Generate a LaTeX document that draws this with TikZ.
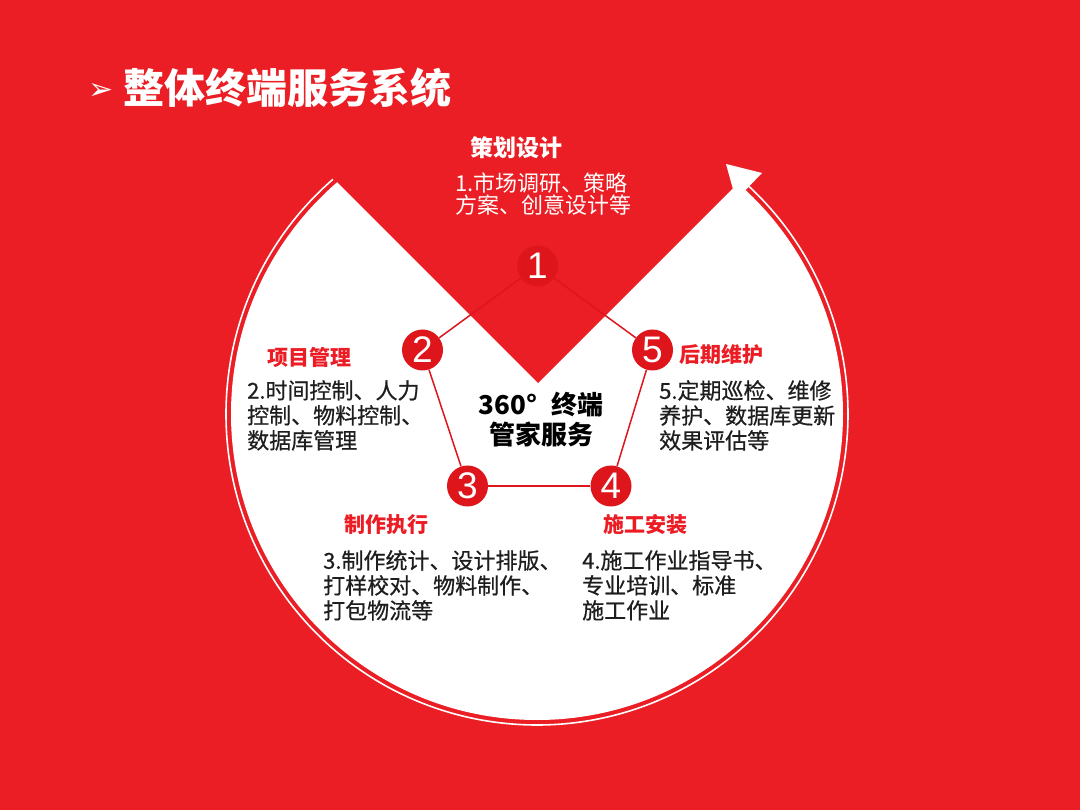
\documentclass[tikz,border=0pt]{standalone}
\usepackage{fontspec}
\setmainfont{Noto Sans CJK SC}
\newfontfamily\bodyfont{Noto Sans CJK SC}[FakeBold=0.6]
\newfontfamily\numfont{Liberation Sans}
\newfontfamily\symfont{DejaVu Sans}
\usepackage{tikz}
\usetikzlibrary{arrows.meta,positioning}
\definecolor{bgred}{RGB}{234,30,36}
\definecolor{deepred}{RGB}{222,22,28}
\definecolor{textred}{RGB}{236,28,36}
\definecolor{darktext}{RGB}{30,30,30}

\begin{document}
\begin{tikzpicture}[x=1pt,y=-1pt,
  num/.style={circle,fill=deepred,minimum size=41pt,inner sep=0pt,text=white,font=\numfont\fontsize{37}{37}\selectfont},
  head/.style={text=textred,inner sep=0pt,font=\bfseries\fontsize{21}{21}\selectfont},
  desc/.style={text=darktext,align=left,anchor=north west,inner sep=0pt,font=\bodyfont\fontsize{22}{25}\selectfont},
  link/.style={draw=deepred,line width=1.5pt},
  ring/.style={draw=white,line width=1.6pt}
]
\useasboundingbox (0,0) rectangle (1080,810);
\fill[bgred] (0,0) rectangle (1080,810);

% white disk with the notch and the ring arrow
\coordinate (c) at (537,414);
\fill[white] (c) circle[radius=306];
\fill[bgred] (538,383) -- (258,103) -- (818,103) -- cycle;
\draw[ring] ([shift={(-131:311)}]c) arc[start angle=-131,end angle=-407,radius=311];
\fill[white] (726,164) -- (762,173) -- (736,200) -- cycle;

% title
\node[text=white,font=\symfont\fontsize{30}{30}\selectfont] (bullet) at (101,92) {➢};
\node[anchor=west,text=white,inner sep=0pt,font=\bfseries\fontsize{41}{41}\selectfont] (title) at (123,88) {整体终端服务系统};

% pentagon
\node[num] (n1) at (537.5,266) {1};
\node[num] (n2) at (422.5,350) {2};
\node[num] (n3) at (467.5,486) {3};
\node[num] (n4) at (611,486) {4};
\node[num] (n5) at (652.5,350) {5};
\draw[link] (n1)--(n2);
\draw[link] (n2)--(n3);
\draw[link] (n3)--(n4);
\draw[link] (n4)--(n5);
\draw[link] (n5)--(n1);

\node[align=center,text=black,font=\bfseries\fontsize{26}{30}\selectfont] (core) at (541,420) {360°\hspace{14pt}终端\\管家服务};

% steps
\node[head,text=white,font=\bfseries\fontsize{23}{23}\selectfont] (plan) at (516,148) {策划设计};
\node[desc,text=white,font=\fontsize{22}{22}\selectfont] (plantext) at (455,173) {1.市场调研、策略\\方案、创意设计等};
\node[head] (manage) at (309,357) {项目管理};
\node[desc] (managetext) at (247,380) {2.时间控制、人力\\控制、物料控制、\\数据库管理};
\node[head] (make) at (386,525) {制作执行};
\node[desc] (maketext) at (323,550) {3.制作统计、设计排版、\\打样校对、物料制作、\\打包物流等};
\node[head] (install) at (645,525) {施工安装};
\node[desc] (installtext) at (582,550) {4.施工作业指导书、\\专业培训、标准\\施工作业};
\node[head] (care) at (721,355) {后期维护};
\node[desc] (caretext) at (659,380) {5.定期巡检、维修\\养护、数据库更新\\效果评估等};
\end{tikzpicture}
\end{document}
